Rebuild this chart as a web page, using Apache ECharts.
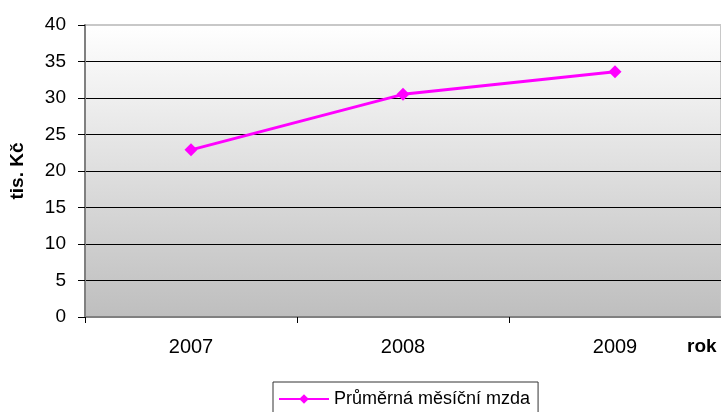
<!DOCTYPE html>
<html><head><meta charset="utf-8">
<script src="https://cdn.jsdelivr.net/npm/echarts@6/dist/echarts.min.js"></script>
<style>html,body{margin:0;padding:0;background:#fff}#c{width:721px;height:412px}</style>
</head><body><div id="c"></div>
<script>
var categories = ['2007', '2008', '2009'];
var values = [22.9, 30.5, 33.6];
var seriesName = 'Průměrná měsíční mzda';
var yName = 'tis. Kč';
var xName = 'rok';

var chart = echarts.init(document.getElementById('c'), null, {renderer: 'canvas'});
chart.setOption({
  animation: false,
  textStyle: {fontFamily: 'Liberation Sans, Arial, sans-serif'},
  grid: {
    left: 84, right: -1, top: 25, bottom: 95,
    show: true, borderColor: '#c8c8c8', borderWidth: 2,
    backgroundColor: new echarts.graphic.LinearGradient(0, 0, 0, 1, [
      {offset: 0, color: '#ffffff'},
      {offset: 1, color: '#bebebe'}
    ])
  },
  legend: {
    left: 273, top: 382, itemGap: 0,
    padding: [8, 8, 12, 5],
    borderColor: '#333', borderWidth: 1,
    itemWidth: 50, itemHeight: 12,
    textStyle: {fontSize: 18, color: '#000', fontFamily: 'Liberation Sans, Arial, sans-serif'},
    data: [seriesName]
  },
  xAxis: {
    type: 'category', data: categories, boundaryGap: true,
    name: xName, nameLocation: 'end', nameGap: 0,
    nameTextStyle: {fontSize: 19, fontWeight: 'bold', color: '#000', padding: [20, 0, 0, -34], align: 'left', verticalAlign: 'top'},
    axisLine: {lineStyle: {color: '#808080', width: 2}},
    axisTick: {show: true, alignWithLabel: false, length: 6, lineStyle: {color: '#000'}},
    axisLabel: {fontSize: 20, color: '#000', margin: 20}
  },
  yAxis: {
    type: 'value', min: 0, max: 40, interval: 5,
    name: yName, nameLocation: 'middle', nameGap: 58, nameRotate: 90,
    nameTextStyle: {fontSize: 19, fontWeight: 'bold', color: '#000'},
    axisLine: {show: true, lineStyle: {color: '#808080', width: 2}},
    axisTick: {show: true, length: 7, lineStyle: {color: '#000'}},
    axisLabel: {fontSize: 19, color: '#000', margin: 19},
    splitLine: {show: true, lineStyle: {color: ['#000','#000','#000','#000','#000','#000','#000','#000','#c8c8c8'], width: 1}}
  },
  series: [{
    name: seriesName, type: 'line', data: values,
    symbol: 'diamond', symbolSize: 13,
    lineStyle: {color: '#ff00ff', width: 3},
    itemStyle: {color: '#ff00ff'}
  }]
});
</script></body></html>
